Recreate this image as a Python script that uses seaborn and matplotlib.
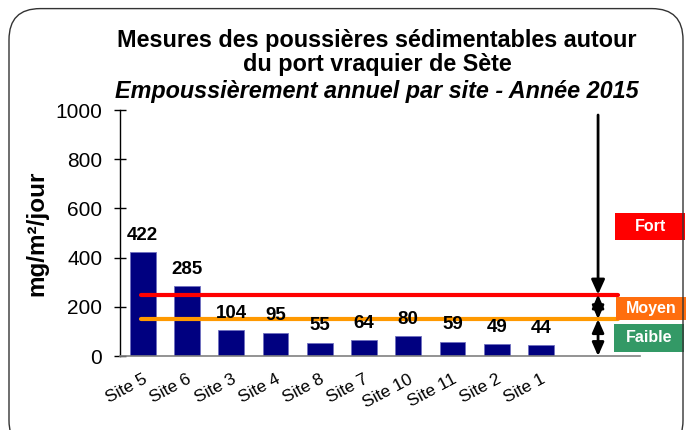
import seaborn as sns
import matplotlib.pyplot as plt
from matplotlib.patches import FancyBboxPatch, Rectangle

# Annual dust deposition per site (mg/m²/jour), sorted as in the chart
sites = ['Site 5', 'Site 6', 'Site 3', 'Site 4', 'Site 8', 'Site 7',
         'Site 10', 'Site 11', 'Site 2', 'Site 1']
values = [422, 285, 104, 95, 55, 64, 80, 59, 49, 44]

# Thresholds between levels
seuil_fort = 250
seuil_moyen = 150
levels = ['Fort', 'Moyen', 'Faible']
level_colors = ['#FF0000', '#FF6E0E', '#339966']

sns.set_style("white")
plt.rcParams['font.family'] = ['Liberation Sans', 'DejaVu Sans']
plt.rcParams['text.color'] = 'black'
plt.rcParams['xtick.color'] = 'black'
plt.rcParams['ytick.color'] = 'black'
plt.rcParams['axes.labelcolor'] = 'black'

fig = plt.figure(figsize=(6.92, 4.30), dpi=100)
ax = fig.add_axes([0.173, 0.172, 0.752, 0.572])

sns.barplot(x=sites, y=values, color='#000080', saturation=1, width=0.58,
            edgecolor='#7070C0', linewidth=0.6, ax=ax)

ax.bar_label(ax.containers[0], fontsize=13.5, fontweight='bold', padding=6)

# Threshold lines
ax.plot([-0.03, 10.75], [seuil_fort, seuil_fort], color='#FF0000', lw=3)
ax.plot([-0.03, 10.75], [seuil_moyen, seuil_moyen], color='#FF9900', lw=3)

# Arrows
xa = 10.29
arrow = dict(arrowstyle='-|>,head_length=0.55,head_width=0.25', color='black',
             lw=2, mutation_scale=16, shrinkA=0, shrinkB=0)
ax.annotate('', xy=(xa, seuil_fort), xytext=(xa, 980), arrowprops=arrow,
            annotation_clip=False)
darrow = dict(arrowstyle='<|-|>,head_length=0.5,head_width=0.22', color='black',
              lw=2, mutation_scale=16, shrinkA=0, shrinkB=0)
ax.annotate('', xy=(xa, seuil_moyen), xytext=(xa, seuil_fort), arrowprops=darrow)
ax.annotate('', xy=(xa, 0), xytext=(xa, seuil_moyen), arrowprops=darrow)

ax.set_xlim(-0.52, 11.24)
ax.set_ylim(0, 1000)
ax.set_yticks(range(0, 1001, 200))
ax.tick_params(axis='y', labelsize=15, direction='inout', length=9, width=1,
               left=True, pad=8)
ax.tick_params(axis='x', labelsize=12.5, bottom=False, pad=8)
plt.setp(ax.get_xticklabels(), rotation=28, ha='right', rotation_mode='anchor')
ax.set_xlabel('')
ax.set_ylabel('mg/m²/jour', fontsize=17.5, fontweight='bold', labelpad=5)

for s in ['top', 'right']:
    ax.spines[s].set_visible(False)
ax.spines['left'].set_color('black')
ax.spines['left'].set_linewidth(1)
ax.spines['bottom'].set_color('#808080')
ax.spines['bottom'].set_linewidth(1.2)

# Titles
fig.text(0.545, 0.905, 'Mesures des poussières sédimentables autour',
         ha='center', va='center', fontsize=16.8, fontweight='bold')
fig.text(0.545, 0.850, 'du port vraquier de Sète',
         ha='center', va='center', fontsize=16.8, fontweight='bold')
fig.text(0.545, 0.788, 'Empoussièrement annuel par site - Année 2015',
         ha='center', va='center', fontsize=16.8, fontweight='bold', style='italic')

# Level boxes (pixel boxes converted to figure fractions)
W, H = 692, 430
boxes = [(615, 213, 70, 27), (616, 297, 70, 23), (614, 324, 70, 28)]
for lab, col, (bx, by, bw, bh) in zip(levels, level_colors, boxes):
    fig.patches.append(Rectangle((bx / W, 1 - (by + bh) / H), bw / W, bh / H,
                                 transform=fig.transFigure, fc=col, ec='none'))
    fig.text((bx + bw / 2) / W, 1 - (by + bh / 2) / H, lab, ha='center',
             va='center', fontsize=11.5, fontweight='bold', color='white')

# Rounded outer frame
frame = FancyBboxPatch((0.013, -0.05), 0.974, 1.03,
                       boxstyle='round,pad=0,rounding_size=0.045',
                       transform=fig.transFigure, fc='none', ec='#333333',
                       lw=1, mutation_aspect=W / H)
fig.patches.append(frame)

fig.savefig('out.png', dpi=100)
